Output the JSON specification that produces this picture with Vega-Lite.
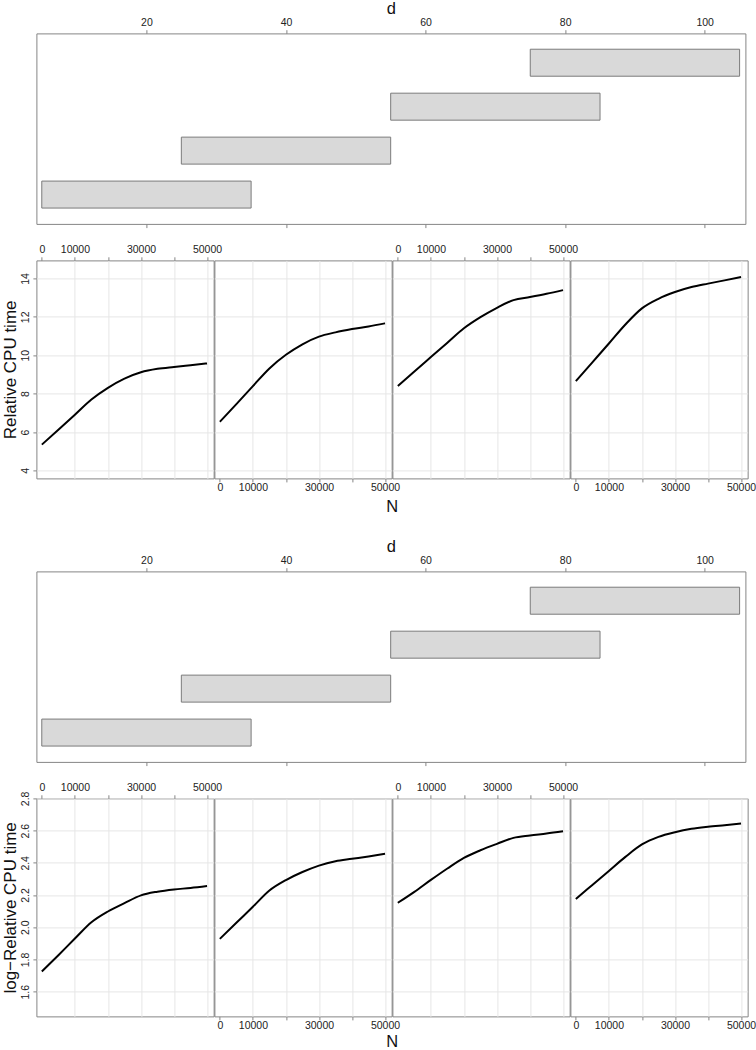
{
  "$schema": "https://vega.github.io/schema/vega-lite/v6.json",
  "background": "white",
  "padding": {"left": 0.4, "top": 0.4, "right": 0, "bottom": 0},
  "config": {
    "font": "Liberation Sans",
    "view": {"stroke": "#858585", "strokeWidth": 1},
    "concat": {"spacing": 0},
    "axis": {
      "domain": false,
      "grid": false,
      "labelFont": "Liberation Sans",
      "labelFontSize": 10.5,
      "labelColor": "#222222",
      "tickColor": "#858585",
      "tickSize": 3.6,
      "labelFlush": false,
      "labelOverlap": false,
      "labelBound": false,
      "titleFont": "Liberation Sans",
      "titleFontWeight": "normal",
      "titleFontSize": 16.5,
      "titleColor": "#111111",
      "gridColor": "#e6e6e6",
      "gridWidth": 1
    }
  },
  "datasets": {
    "given": [
      {"interval": 1, "lo": 5, "hi": 35},
      {"interval": 2, "lo": 25, "hi": 55},
      {"interval": 3, "lo": 55, "hi": 85},
      {"interval": 4, "lo": 75, "hi": 105}
    ],
    "cpu": [
      {"panel": 1, "N": 0, "rel": 5.34, "logrel": 1.726},
      {"panel": 1, "N": 5000, "rel": 6.12, "logrel": 1.827},
      {"panel": 1, "N": 10000, "rel": 6.9, "logrel": 1.93},
      {"panel": 1, "N": 15000, "rel": 7.69, "logrel": 2.031},
      {"panel": 1, "N": 20000, "rel": 8.3, "logrel": 2.098},
      {"panel": 1, "N": 25000, "rel": 8.78, "logrel": 2.15},
      {"panel": 1, "N": 30000, "rel": 9.11, "logrel": 2.198},
      {"panel": 1, "N": 35000, "rel": 9.29, "logrel": 2.221},
      {"panel": 1, "N": 40000, "rel": 9.39, "logrel": 2.235},
      {"panel": 1, "N": 45000, "rel": 9.48, "logrel": 2.244},
      {"panel": 1, "N": 50000, "rel": 9.57, "logrel": 2.256},
      {"panel": 2, "N": 0, "rel": 6.53, "logrel": 1.928},
      {"panel": 2, "N": 5000, "rel": 7.45, "logrel": 2.028},
      {"panel": 2, "N": 10000, "rel": 8.39, "logrel": 2.127},
      {"panel": 2, "N": 15000, "rel": 9.31, "logrel": 2.228},
      {"panel": 2, "N": 20000, "rel": 10.02, "logrel": 2.293},
      {"panel": 2, "N": 25000, "rel": 10.57, "logrel": 2.343},
      {"panel": 2, "N": 30000, "rel": 10.97, "logrel": 2.383},
      {"panel": 2, "N": 35000, "rel": 11.19, "logrel": 2.41},
      {"panel": 2, "N": 40000, "rel": 11.36, "logrel": 2.425},
      {"panel": 2, "N": 45000, "rel": 11.5, "logrel": 2.44},
      {"panel": 2, "N": 50000, "rel": 11.66, "logrel": 2.456},
      {"panel": 3, "N": 0, "rel": 8.39, "logrel": 2.152},
      {"panel": 3, "N": 5000, "rel": 9.15, "logrel": 2.22},
      {"panel": 3, "N": 10000, "rel": 9.9, "logrel": 2.294},
      {"panel": 3, "N": 15000, "rel": 10.65, "logrel": 2.365},
      {"panel": 3, "N": 20000, "rel": 11.4, "logrel": 2.431},
      {"panel": 3, "N": 25000, "rel": 11.98, "logrel": 2.478},
      {"panel": 3, "N": 30000, "rel": 12.47, "logrel": 2.518},
      {"panel": 3, "N": 35000, "rel": 12.87, "logrel": 2.555},
      {"panel": 3, "N": 40000, "rel": 13.03, "logrel": 2.57},
      {"panel": 3, "N": 45000, "rel": 13.2, "logrel": 2.582},
      {"panel": 3, "N": 50000, "rel": 13.39, "logrel": 2.596},
      {"panel": 4, "N": 0, "rel": 8.65, "logrel": 2.176},
      {"panel": 4, "N": 5000, "rel": 9.63, "logrel": 2.263},
      {"panel": 4, "N": 10000, "rel": 10.61, "logrel": 2.35},
      {"panel": 4, "N": 15000, "rel": 11.6, "logrel": 2.437},
      {"panel": 4, "N": 20000, "rel": 12.44, "logrel": 2.514},
      {"panel": 4, "N": 25000, "rel": 12.94, "logrel": 2.561},
      {"panel": 4, "N": 30000, "rel": 13.29, "logrel": 2.59},
      {"panel": 4, "N": 35000, "rel": 13.55, "logrel": 2.611},
      {"panel": 4, "N": 40000, "rel": 13.73, "logrel": 2.624},
      {"panel": 4, "N": 45000, "rel": 13.9, "logrel": 2.634},
      {"panel": 4, "N": 50000, "rel": 14.07, "logrel": 2.644}
    ]
  },
  "vconcat": [
    {
      "width": 709, "height": 190.5,
      "data": {"name": "given"},
      "layer": [
        {
          "mark": {"type": "bar", "color": "#d9d9d9"},
          "encoding": {
            "x": {"field": "lo", "type": "quantitative", "scale": {"domain": [4.23, 105.83], "nice": false, "zero": false},
                  "axis": {"orient": "top", "values": [20, 40, 60, 80, 100], "title": "d", "titlePadding": 0.5, "labelPadding": 2.3, "tickSize": 3.7}},
            "x2": {"field": "hi"},
            "y": {"field": "interval", "type": "ordinal", "sort": "descending", "scale": {"paddingInner": 0.386, "paddingOuter": 0.36},
                  "axis": {"labels": false, "ticks": false, "title": null, "minExtent": 34, "maxExtent": 34}}
          }
        },
        {
          "mark": {"type": "bar", "filled": false, "stroke": "#7a7a7a", "strokeWidth": 1},
          "encoding": {
            "x": {"field": "lo", "type": "quantitative",
                  "axis": {"orient": "bottom", "values": [20, 40, 60, 80, 100], "labels": false, "title": null, "tickSize": 3.7, "minExtent": 14.3, "maxExtent": 14.3}},
            "x2": {"field": "hi"},
            "y": {"field": "interval", "type": "ordinal", "sort": "descending", "axis": null}
          }
        }
      ],
      "resolve": {"axis": {"x": "independent"}}
    },
    {
      "data": {"name": "cpu"},
      "hconcat": [
        {
          "width": 177.25, "height": 218,
          "transform": [{"filter": "datum.panel == 1"}],
          "mark": {"type": "line", "color": "#000000", "strokeWidth": 2, "interpolate": "monotone"},
          "encoding": {
            "x": {"field": "N", "type": "quantitative", "scale": {"domain": [-1650, 52000], "nice": false, "zero": false},
                  "axis": {"orient": "top", "values": [0, 10000, 20000, 30000, 40000, 50000], "format": "d", "labelExpr": "datum.value == 20000 || datum.value == 40000 ? '' : datum.label", "title": null, "tickSize": 3.6, "labelPadding": 2.1, "minExtent": 20, "maxExtent": 20, "grid": true, "gridOpacity": {"condition": {"test": "datum.value == 0", "value": 0}, "value": 1}}},
            "y": {"field": "rel", "type": "quantitative", "scale": {"domain": [3.58, 14.94], "nice": false, "zero": false},
                  "axis": {"orient": "left", "values": [4, 6, 8, 10, 12, 14], "title": "Relative CPU time", "titleFontSize": 17, "titlePadding": 0.8, "labelAngle": 270, "labelAlign": "center", "labelBaseline": "bottom", "labelPadding": 2, "tickSize": 3.5, "minExtent": 16, "maxExtent": 16, "grid": true}}
          }
        },
        {
          "width": 177.25, "height": 218,
          "transform": [{"filter": "datum.panel == 2"}],
          "mark": {"type": "line", "color": "#000000", "strokeWidth": 2, "interpolate": "monotone"},
          "encoding": {
            "x": {"field": "N", "type": "quantitative", "scale": {"domain": [-1650, 52000], "nice": false, "zero": false},
                  "axis": {"orient": "bottom", "values": [0, 10000, 20000, 30000, 40000, 50000], "format": "d", "labelExpr": "datum.value == 20000 || datum.value == 40000 ? '' : datum.label", "title": "N", "titleX": 177.25, "titleAlign": "center", "titlePadding": 5.6, "tickSize": 3.5, "labelPadding": 0.2, "grid": true, "gridOpacity": {"condition": {"test": "datum.value == 0", "value": 0}, "value": 1}}},
            "y": {"field": "rel", "type": "quantitative", "scale": {"domain": [3.58, 14.94], "nice": false, "zero": false},
                  "axis": {"values": [4, 6, 8, 10, 12, 14], "labels": false, "ticks": false, "title": null, "minExtent": 0, "maxExtent": 0, "grid": true}}
          }
        },
        {
          "width": 177.25, "height": 218,
          "transform": [{"filter": "datum.panel == 3"}],
          "mark": {"type": "line", "color": "#000000", "strokeWidth": 2, "interpolate": "monotone"},
          "encoding": {
            "x": {"field": "N", "type": "quantitative", "scale": {"domain": [-1650, 52000], "nice": false, "zero": false},
                  "axis": {"orient": "top", "values": [0, 10000, 20000, 30000, 40000, 50000], "format": "d", "labelExpr": "datum.value == 20000 || datum.value == 40000 ? '' : datum.label", "title": null, "tickSize": 3.6, "labelPadding": 2.1, "minExtent": 20, "maxExtent": 20, "grid": true, "gridOpacity": {"condition": {"test": "datum.value == 0", "value": 0}, "value": 1}}},
            "y": {"field": "rel", "type": "quantitative", "scale": {"domain": [3.58, 14.94], "nice": false, "zero": false},
                  "axis": {"values": [4, 6, 8, 10, 12, 14], "labels": false, "ticks": false, "title": null, "minExtent": 0, "maxExtent": 0, "grid": true}}
          }
        },
        {
          "width": 177.25, "height": 218,
          "transform": [{"filter": "datum.panel == 4"}],
          "mark": {"type": "line", "color": "#000000", "strokeWidth": 2, "interpolate": "monotone"},
          "encoding": {
            "x": {"field": "N", "type": "quantitative", "scale": {"domain": [-1650, 52000], "nice": false, "zero": false},
                  "axis": {"orient": "bottom", "values": [0, 10000, 20000, 30000, 40000, 50000], "format": "d", "labelExpr": "datum.value == 20000 || datum.value == 40000 ? '' : datum.label", "title": null, "tickSize": 3.5, "labelPadding": 0.2, "minExtent": 59.5, "maxExtent": 59.5, "grid": true, "gridOpacity": {"condition": {"test": "datum.value == 0", "value": 0}, "value": 1}}},
            "y": {"field": "rel", "type": "quantitative", "scale": {"domain": [3.58, 14.94], "nice": false, "zero": false},
                  "axis": {"values": [4, 6, 8, 10, 12, 14], "labels": false, "ticks": false, "title": null, "minExtent": 0, "maxExtent": 0, "grid": true}}
          }
        }
      ],
      "spacing": 0,
      "bounds": "flush"
    },
    {
      "width": 709, "height": 190.5,
      "data": {"name": "given"},
      "layer": [
        {
          "mark": {"type": "bar", "color": "#d9d9d9"},
          "encoding": {
            "x": {"field": "lo", "type": "quantitative", "scale": {"domain": [4.23, 105.83], "nice": false, "zero": false},
                  "axis": {"orient": "top", "values": [20, 40, 60, 80, 100], "title": "d", "titlePadding": 0.5, "labelPadding": 2.3, "tickSize": 3.7}},
            "x2": {"field": "hi"},
            "y": {"field": "interval", "type": "ordinal", "sort": "descending", "scale": {"paddingInner": 0.386, "paddingOuter": 0.36},
                  "axis": {"labels": false, "ticks": false, "title": null, "minExtent": 34, "maxExtent": 34}}
          }
        },
        {
          "mark": {"type": "bar", "filled": false, "stroke": "#7a7a7a", "strokeWidth": 1},
          "encoding": {
            "x": {"field": "lo", "type": "quantitative",
                  "axis": {"orient": "bottom", "values": [20, 40, 60, 80, 100], "labels": false, "title": null, "tickSize": 3.7, "minExtent": 14.7, "maxExtent": 14.7}},
            "x2": {"field": "hi"},
            "y": {"field": "interval", "type": "ordinal", "sort": "descending", "axis": null}
          }
        }
      ],
      "resolve": {"axis": {"x": "independent"}}
    },
    {
      "data": {"name": "cpu"},
      "hconcat": [
        {
          "width": 177.25, "height": 218,
          "transform": [{"filter": "datum.panel == 1"}],
          "mark": {"type": "line", "color": "#000000", "strokeWidth": 2, "interpolate": "monotone"},
          "encoding": {
            "x": {"field": "N", "type": "quantitative", "scale": {"domain": [-1650, 52000], "nice": false, "zero": false},
                  "axis": {"orient": "top", "values": [0, 10000, 20000, 30000, 40000, 50000], "format": "d", "labelExpr": "datum.value == 20000 || datum.value == 40000 ? '' : datum.label", "title": null, "tickSize": 3.6, "labelPadding": 2.1, "minExtent": 20, "maxExtent": 20, "grid": true, "gridOpacity": {"condition": {"test": "datum.value == 0", "value": 0}, "value": 1}}},
            "y": {"field": "logrel", "type": "quantitative", "scale": {"domain": [1.447, 2.8], "nice": false, "zero": false},
                  "axis": {"orient": "left", "values": [1.6, 1.8, 2.0, 2.2, 2.4, 2.6, 2.8], "format": ".1f", "title": "log−Relative CPU time", "titleFontSize": 17, "titlePadding": 0.8, "labelAngle": 270, "labelAlign": "center", "labelBaseline": "bottom", "labelPadding": 2, "tickSize": 3.5, "minExtent": 16, "maxExtent": 16, "grid": true}}
          }
        },
        {
          "width": 177.25, "height": 218,
          "transform": [{"filter": "datum.panel == 2"}],
          "mark": {"type": "line", "color": "#000000", "strokeWidth": 2, "interpolate": "monotone"},
          "encoding": {
            "x": {"field": "N", "type": "quantitative", "scale": {"domain": [-1650, 52000], "nice": false, "zero": false},
                  "axis": {"orient": "bottom", "values": [0, 10000, 20000, 30000, 40000, 50000], "format": "d", "labelExpr": "datum.value == 20000 || datum.value == 40000 ? '' : datum.label", "title": "N", "titleX": 177.25, "titleAlign": "center", "titlePadding": 3.4, "tickSize": 3.5, "labelPadding": 0.2, "grid": true, "gridOpacity": {"condition": {"test": "datum.value == 0", "value": 0}, "value": 1}}},
            "y": {"field": "logrel", "type": "quantitative", "scale": {"domain": [1.447, 2.8], "nice": false, "zero": false},
                  "axis": {"values": [1.6, 1.8, 2.0, 2.2, 2.4, 2.6, 2.8], "labels": false, "ticks": false, "title": null, "minExtent": 0, "maxExtent": 0, "grid": true}}
          }
        },
        {
          "width": 177.25, "height": 218,
          "transform": [{"filter": "datum.panel == 3"}],
          "mark": {"type": "line", "color": "#000000", "strokeWidth": 2, "interpolate": "monotone"},
          "encoding": {
            "x": {"field": "N", "type": "quantitative", "scale": {"domain": [-1650, 52000], "nice": false, "zero": false},
                  "axis": {"orient": "top", "values": [0, 10000, 20000, 30000, 40000, 50000], "format": "d", "labelExpr": "datum.value == 20000 || datum.value == 40000 ? '' : datum.label", "title": null, "tickSize": 3.6, "labelPadding": 2.1, "minExtent": 20, "maxExtent": 20, "grid": true, "gridOpacity": {"condition": {"test": "datum.value == 0", "value": 0}, "value": 1}}},
            "y": {"field": "logrel", "type": "quantitative", "scale": {"domain": [1.447, 2.8], "nice": false, "zero": false},
                  "axis": {"values": [1.6, 1.8, 2.0, 2.2, 2.4, 2.6, 2.8], "labels": false, "ticks": false, "title": null, "minExtent": 0, "maxExtent": 0, "grid": true}}
          }
        },
        {
          "width": 177.25, "height": 218,
          "transform": [{"filter": "datum.panel == 4"}],
          "mark": {"type": "line", "color": "#000000", "strokeWidth": 2, "interpolate": "monotone"},
          "encoding": {
            "x": {"field": "N", "type": "quantitative", "scale": {"domain": [-1650, 52000], "nice": false, "zero": false},
                  "axis": {"orient": "bottom", "values": [0, 10000, 20000, 30000, 40000, 50000], "format": "d", "labelExpr": "datum.value == 20000 || datum.value == 40000 ? '' : datum.label", "title": null, "tickSize": 3.5, "labelPadding": 0.2, "grid": true, "gridOpacity": {"condition": {"test": "datum.value == 0", "value": 0}, "value": 1}}},
            "y": {"field": "logrel", "type": "quantitative", "scale": {"domain": [1.447, 2.8], "nice": false, "zero": false},
                  "axis": {"values": [1.6, 1.8, 2.0, 2.2, 2.4, 2.6, 2.8], "labels": false, "ticks": false, "title": null, "minExtent": 0, "maxExtent": 0, "grid": true}}
          }
        }
      ],
      "spacing": 0,
      "bounds": "flush"
    }
  ]
}
